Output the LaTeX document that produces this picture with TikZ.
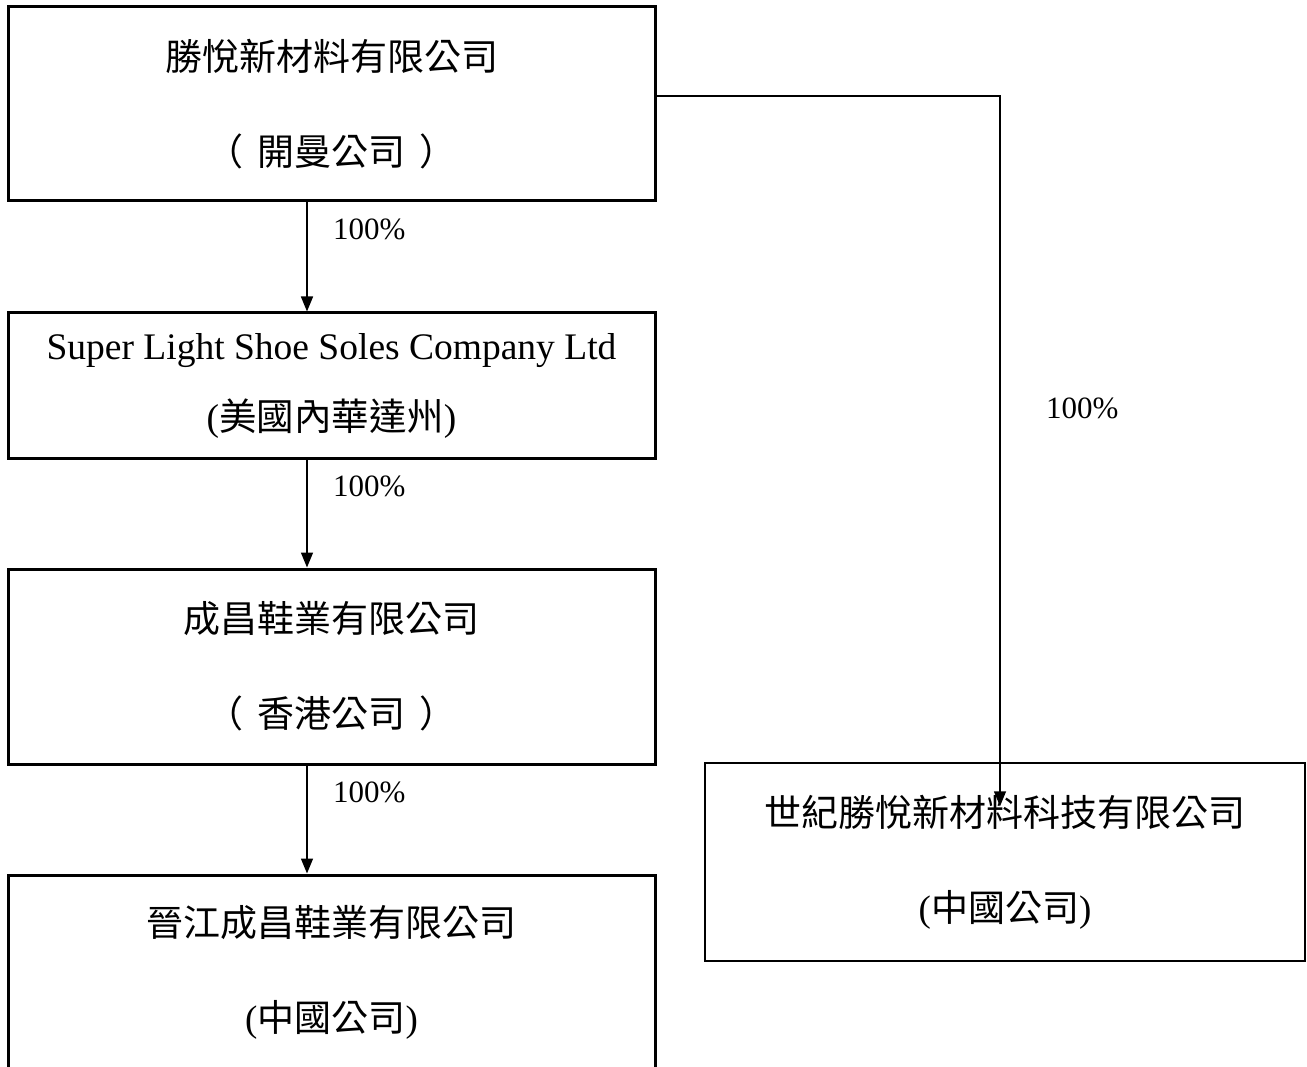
\documentclass[tikz,border=0pt]{standalone}
\usepackage{fontspec}
\setmainfont{Liberation Serif}
\newfontfamily\cjk{Noto Sans CJK TC}
\usetikzlibrary{arrows.meta, positioning, calc}

\begin{document}
\begin{tikzpicture}[
    x=1pt, y=-1pt,
    % 樣式定義
    company/.style={
        draw, line width=3pt, minimum width=647pt, inner sep=0pt, align=center,
        font=\fontsize{37}{95}\selectfont
    },
    company_thin/.style={
        company, line width=1.5pt, minimum width=600pt
    },
    own_arrow/.style={
        -{Triangle[width=12pt,length=15pt]}, line width=1.5pt
    },
    share/.style={
        font=\fontsize{31}{37}\selectfont
    }
]

    % --- CANVAS ---
    \useasboundingbox (0,0) rectangle (1307,1067);
    \clip (0,0) rectangle (1307,1067);

    % --- 1. HOLDING (Top) ---
    \node[company, minimum height=194pt] (holding) at (331.5,104) {
        {\cjk 勝悅新材料有限公司}\\
        {\cjk （\kern14pt 開曼公司\kern14pt ）}
    };

    % --- 2. LEFT CHAIN ---
    \node[company, minimum height=145pt, font=\fontsize{37.5}{71}\selectfont] (superlight) at (331.5,385.5) {
        Super Light Shoe Soles Company Ltd\\
        ({\cjk 美國內華達州})
    };

    \node[company, minimum height=195pt] (chengchang_hk) at (331.5,666.5) {
        {\cjk 成昌鞋業有限公司}\\
        {\cjk （\kern14pt 香港公司\kern14pt ）}
    };

    \node[company, minimum height=195pt] (chengchang_cn) at (331.5,972.5) {
        {\cjk 晉江成昌鞋業有限公司}\\
        ({\cjk 中國公司})
    };

    % --- 3. RIGHT BRANCH ---
    \node[company_thin, minimum height=198pt] (century) at (1005,862) {
        {\cjk 世紀勝悅新材料科技有限公司}\\
        ({\cjk 中國公司})
    };

    % --- OWNERSHIP ARROWS ---
    \coordinate (spine) at (307,0);
    \coordinate (century_tip) at ($(century.north)+(-5,44)$);

    \draw[own_arrow] (holding.south -| spine) -- node[share, pos=0.25, right=22pt] {100\%} (superlight.north -| spine);
    \draw[own_arrow] (superlight.south -| spine) -- node[share, pos=0.25, right=22pt] {100\%} (chengchang_hk.north -| spine);
    \draw[own_arrow] (chengchang_hk.south -| spine) -- node[share, pos=0.25, right=22pt] {100\%} (chengchang_cn.north -| spine);
    \draw[own_arrow] ([yshift=8pt]holding.east) -| node[share, pos=0.72, right=42pt] {100\%} (century_tip);

\end{tikzpicture}
\end{document}
